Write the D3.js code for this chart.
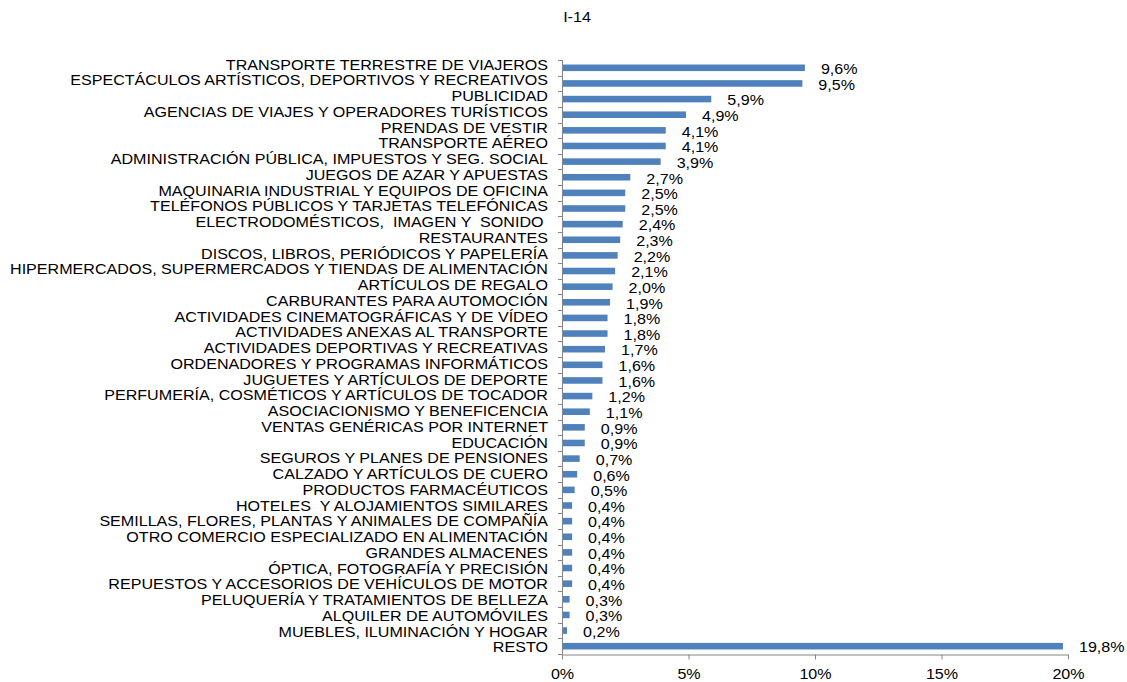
<!DOCTYPE html>
<html>
<head>
<meta charset="utf-8">
<script src="https://cdn.jsdelivr.net/npm/d3@7"></script>
<style>
  html, body { margin: 0; padding: 0; background: #fff; }
  svg { display: block; font-family: "Liberation Sans", Arial, sans-serif; }
</style>
</head>
<body>
<svg id="chart" width="1127" height="682"></svg>
<script>
const chartTitle = "I-14";

const categories = [
  "TRANSPORTE TERRESTRE DE VIAJEROS",
  "ESPECTÁCULOS ARTÍSTICOS, DEPORTIVOS Y RECREATIVOS",
  "PUBLICIDAD",
  "AGENCIAS DE VIAJES Y OPERADORES TURÍSTICOS",
  "PRENDAS DE VESTIR",
  "TRANSPORTE AÉREO",
  "ADMINISTRACIÓN PÚBLICA, IMPUESTOS Y SEG. SOCIAL",
  "JUEGOS DE AZAR Y APUESTAS",
  "MAQUINARIA INDUSTRIAL Y EQUIPOS DE OFICINA",
  "TELÉFONOS PÚBLICOS Y TARJETAS TELEFÓNICAS",
  "ELECTRODOMÉSTICOS,  IMAGEN Y  SONIDO ",
  "RESTAURANTES",
  "DISCOS, LIBROS, PERIÓDICOS Y PAPELERÍA",
  "HIPERMERCADOS, SUPERMERCADOS Y TIENDAS DE ALIMENTACIÓN",
  "ARTÍCULOS DE REGALO",
  "CARBURANTES PARA AUTOMOCIÓN",
  "ACTIVIDADES CINEMATOGRÁFICAS Y DE VÍDEO",
  "ACTIVIDADES ANEXAS AL TRANSPORTE",
  "ACTIVIDADES DEPORTIVAS Y RECREATIVAS",
  "ORDENADORES Y PROGRAMAS INFORMÁTICOS",
  "JUGUETES Y ARTÍCULOS DE DEPORTE",
  "PERFUMERÍA, COSMÉTICOS Y ARTÍCULOS DE TOCADOR",
  "ASOCIACIONISMO Y BENEFICENCIA",
  "VENTAS GENÉRICAS POR INTERNET",
  "EDUCACIÓN",
  "SEGUROS Y PLANES DE PENSIONES",
  "CALZADO Y ARTÍCULOS DE CUERO",
  "PRODUCTOS FARMACÉUTICOS",
  "HOTELES  Y ALOJAMIENTOS SIMILARES",
  "SEMILLAS, FLORES, PLANTAS Y ANIMALES DE COMPAÑÍA",
  "OTRO COMERCIO ESPECIALIZADO EN ALIMENTACIÓN",
  "GRANDES ALMACENES",
  "ÓPTICA, FOTOGRAFÍA Y PRECISIÓN",
  "REPUESTOS Y ACCESORIOS DE VEHÍCULOS DE MOTOR",
  "PELUQUERÍA Y TRATAMIENTOS DE BELLEZA",
  "ALQUILER DE AUTOMÓVILES",
  "MUEBLES, ILUMINACIÓN Y HOGAR",
  "RESTO"
];

// Share of total, in percent
const shares = [
  9.6, 9.5, 5.9, 4.9, 4.1, 4.1, 3.9, 2.7, 2.5, 2.5,
  2.4, 2.3, 2.2, 2.1, 2.0, 1.9, 1.8, 1.8, 1.7, 1.6,
  1.6, 1.2, 1.1, 0.9, 0.9, 0.7, 0.6, 0.5, 0.4, 0.4,
  0.4, 0.4, 0.4, 0.4, 0.3, 0.3, 0.2, 19.8
];

const xTicks = [0, 5, 10, 15, 20];

const data = categories.map((c, i) => ({ name: c, value: shares[i] }));

const esLocale = d3.formatLocale({ decimal: ",", thousands: ".", grouping: [3], currency: ["", " €"] });
const fmtValue = v => esLocale.format(".1f")(v) + "%";
const fmtTick = v => esLocale.format("d")(v) + "%";

const svg = d3.select("#chart");
const stretch = 1.15;    // horizontal text stretch
const fontSize = 14;

const plot = { left: 562, right: 1068, top: 60, bottom: 654 };

const x = d3.scaleLinear().domain([0, 20]).range([plot.left, plot.right]);
const y = d3.scaleBand().domain(categories).range([plot.top, plot.bottom]).paddingInner(0.58).paddingOuter(0.29);
const band = d3.scaleBand().domain(categories).range([plot.top, plot.bottom]);
// Baselines of the category labels
const labelY = d3.scalePoint().domain(categories).range([69.7, 652.3]);

function stretchedText(sel, tx, ty) {
  return sel.attr("x", 0).attr("y", 0)
    .attr("transform", (d, i) => `translate(${tx(d, i)},${ty(d, i)}) scale(${stretch},1)`)
    .attr("font-size", fontSize)
    .attr("fill", "#000");
}

// Title
svg.append("text").datum(chartTitle)
  .call(s => stretchedText(s, () => 577, () => 22))
  .attr("text-anchor", "middle")
  .text(d => d);

// Bars
svg.append("g").selectAll("rect").data(data).join("rect")
  .attr("x", x(0))
  .attr("y", d => y(d.name))
  .attr("width", d => x(d.value) - x(0))
  .attr("height", y.bandwidth())
  .attr("fill", "#4F81BD");

// Value labels
svg.append("g").selectAll("text").data(data).join("text")
  .call(s => stretchedText(s, d => x(d.value) + 16, d => band(d.name) + band.bandwidth() / 2 + 6.3))
  .attr("text-anchor", "start")
  .text(d => fmtValue(d.value));

// Category axis (ticks on band boundaries)
const axisColor = "#868686";
const yAxis = svg.append("g");
yAxis.append("line")
  .attr("x1", plot.left + 0.5).attr("x2", plot.left + 0.5)
  .attr("y1", plot.top).attr("y2", plot.bottom)
  .attr("stroke", axisColor);
const boundaries = categories.map(c => band(c)).concat([plot.bottom]);
yAxis.selectAll("line.tick").data(boundaries).join("line")
  .attr("class", "tick")
  .attr("x1", plot.left - 4).attr("x2", plot.left + 0.5)
  .attr("y1", d => Math.round(d) + 0.5).attr("y2", d => Math.round(d) + 0.5)
  .attr("stroke", axisColor);
yAxis.selectAll("text").data(categories).join("text")
  .call(s => stretchedText(s, () => 548, d => labelY(d)))
  .attr("text-anchor", "end")
  .style("white-space", "pre")
  .attr("xml:space", "preserve")
  .text(d => d);

// Value axis
const xAxis = svg.append("g").attr("transform", `translate(0,${plot.bottom + 0.5})`)
  .call(d3.axisBottom(x).tickValues(xTicks).tickSize(5).tickSizeOuter(0).tickFormat(fmtTick));
xAxis.select(".domain").attr("stroke", axisColor);
xAxis.selectAll(".tick line").attr("stroke", axisColor);
xAxis.selectAll(".tick text")
  .attr("font-size", fontSize)
  .attr("fill", "#000")
  .attr("font-family", "Liberation Sans, Arial, sans-serif")
  .attr("y", 0)
  .attr("dy", 0)
  .attr("transform", `translate(0,24.5) scale(${stretch},1)`);
</script>
</body>
</html>
